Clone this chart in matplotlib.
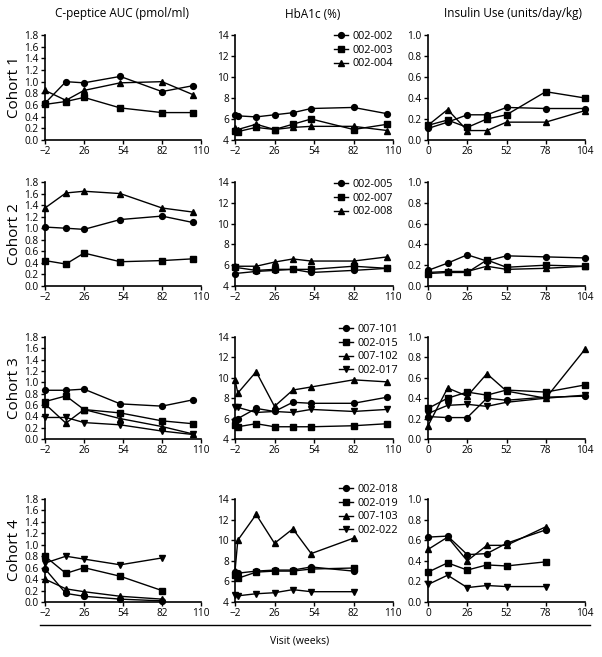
import matplotlib
matplotlib.use("Agg")
import matplotlib.pyplot as plt
from matplotlib.lines import Line2D

plt.rcParams['font.family'] = ['Open Sans', 'DejaVu Sans']

# ---------------- data ----------------
COLUMN_TITLES = ["C-peptice AUC (pmol/ml)", "HbA1c (%)", "Insulin Use (units/day/kg)"]
COHORTS = ["Cohort 1", "Cohort 2", "Cohort 3", "Cohort 4"]
MARKERS = ['o', 's', '^', 'v']

C1_IDS = ["002-002", "002-003", "002-004"]
C2_IDS = ["002-005", "002-007", "002-008"]
C3_IDS = ["007-101", "002-015", "007-102", "002-017"]
C4_IDS = ["002-018", "002-019", "007-103", "002-022"]

CPEP_X = [-2, 13, 26, 52, 82, 104]
CPEP_X4 = [-2, 13, 26, 52, 82]
HBA_X1 = [-2, 0, 13, 26, 39, 52, 82, 106]
HBA_X2 = [-2, 13, 26, 39, 52, 82, 106]
HBA_X3 = [-2, 0, 13, 26, 39, 52, 82, 106]
HBA_X4 = [-2, 0, 13, 26, 39, 52, 82]
INS_X = [0, 13, 26, 39, 52, 78, 104]
INS_X4 = [0, 13, 26, 39, 52, 78]

C1_CPEP = [[0.63, 1.00, 0.98, 1.09, 0.83, 0.93],
           [0.61, 0.66, 0.73, 0.55, 0.47, 0.47],
           [0.85, 0.68, 0.85, 0.98, 1.00, 0.78]]
C2_CPEP = [[1.02, 1.00, 0.98, 1.15, 1.21, 1.10],
           [0.44, 0.38, 0.57, 0.42, 0.44, 0.47],
           [1.35, 1.61, 1.64, 1.60, 1.35, 1.28]]
C3_CPEP = [[0.86, 0.86, 0.88, 0.62, 0.58, 0.69],
           [0.66, 0.76, 0.52, 0.46, 0.32, 0.27],
           [0.62, 0.28, 0.52, 0.36, 0.22, 0.09],
           [0.38, 0.38, 0.29, 0.25, 0.14, 0.08]]
C4_CPEP = [[0.58, 0.15, 0.10, 0.05, 0.02],
           [0.80, 0.50, 0.60, 0.45, 0.20],
           [0.40, 0.23, 0.18, 0.10, 0.05],
           [0.68, 0.80, 0.75, 0.65, 0.77]]

C1_HBA = [[6.4, 6.3, 6.2, 6.4, 6.6, 7.0, 7.1, 6.5],
          [4.9, 4.8, 5.2, 5.0, 5.5, 6.0, 5.0, 5.5],
          [5.1, 5.0, 5.5, 5.0, 5.2, 5.3, 5.3, 4.9]]
C2_HBA = [[5.2, 5.4, 5.5, 5.6, 5.3, 5.5, 5.7],
          [5.8, 5.5, 5.6, 5.6, 5.6, 5.9, 5.7],
          [5.9, 5.9, 6.3, 6.6, 6.4, 6.4, 6.8]]
C3_HBA = [[5.9, 6.0, 7.0, 6.7, 7.6, 7.5, 7.5, 8.1],
          [5.4, 5.2, 5.5, 5.2, 5.2, 5.2, 5.3, 5.5],
          [9.8, 8.5, 10.6, 7.2, 8.8, 9.1, 9.8, 9.6],
          [7.1, 7.1, 6.6, 6.7, 6.6, 6.9, 6.7, 6.9]]
C4_HBA = [[6.9, 6.8, 7.0, 7.1, 7.1, 7.4, 7.0],
          [6.6, 6.3, 6.9, 7.0, 7.0, 7.2, 7.3],
          [7.0, 10.0, 12.5, 9.7, 11.1, 8.7, 10.2],
          [4.7, 4.6, 4.8, 4.9, 5.2, 5.0, 5.0]]

C1_INS = [[0.11, 0.17, 0.24, 0.24, 0.31, 0.30, 0.30],
          [0.14, 0.19, 0.12, 0.20, 0.24, 0.46, 0.40],
          [0.14, 0.29, 0.09, 0.09, 0.17, 0.17, 0.28]]
C2_INS = [[0.15, 0.22, 0.30, 0.24, 0.29, 0.28, 0.27],
          [0.12, 0.13, 0.13, 0.25, 0.18, 0.20, 0.19],
          [0.13, 0.14, 0.14, 0.19, 0.16, 0.17, 0.19]]
C3_INS = [[0.22, 0.21, 0.21, 0.40, 0.38, 0.41, 0.42],
          [0.30, 0.40, 0.46, 0.43, 0.48, 0.46, 0.53],
          [0.13, 0.50, 0.42, 0.64, 0.47, 0.40, 0.88],
          [0.25, 0.33, 0.34, 0.32, 0.36, 0.40, 0.43]]
C4_INS = [[0.63, 0.64, 0.46, 0.47, 0.57, 0.70],
          [0.29, 0.38, 0.31, 0.36, 0.35, 0.39],
          [0.51, 0.63, 0.40, 0.55, 0.55, 0.73],
          [0.17, 0.26, 0.14, 0.16, 0.15, 0.15]]

CPEP_TICKS = [-2, 26, 54, 82, 110]
HBA_TICKS = [-2, 26, 54, 82, 110]
INS_TICKS = [0, 26, 52, 78, 104]
CPEP_YTICKS = [0.0, 0.2, 0.4, 0.6, 0.8, 1.0, 1.2, 1.4, 1.6, 1.8]
HBA_YTICKS = [4, 6, 8, 10, 12, 14]
INS_YTICKS = [0.0, 0.2, 0.4, 0.6, 0.8, 1.0]

rows = [
    (C1_IDS, (CPEP_X, C1_CPEP), (HBA_X1, C1_HBA), (INS_X, C1_INS)),
    (C2_IDS, (CPEP_X, C2_CPEP), (HBA_X2, C2_HBA), (INS_X, C2_INS)),
    (C3_IDS, (CPEP_X, C3_CPEP), (HBA_X3, C3_HBA), (INS_X, C3_INS)),
    (C4_IDS, (CPEP_X4, C4_CPEP), (HBA_X4, C4_HBA), (INS_X4, C4_INS)),
]

# ---------------- layout ----------------
W, H = 602, 657
fig = plt.figure(figsize=(W / 100, H / 100), dpi=100)

col_px = [(45, 156), (235, 158), (428, 157)]
row_px = [(35, 140), (182, 286), (337, 439), (499, 602)]
legend_px = [(342, 31), (342, 179), (347, 324), (347, 484)]

def px_axes(x0, w, y0, y1):
    return fig.add_axes([x0 / W, 1 - y1 / H, w / W, (y1 - y0) / H])

FS = 7.3
for r, (ids, cp, hb, ins) in enumerate(rows):
    y0, y1 = row_px[r]
    for c, (xs, series) in enumerate([cp, hb, ins]):
        ax = px_axes(col_px[c][0], col_px[c][1], y0, y1)
        for i, ys in enumerate(series):
            ax.plot(xs, ys, color='black', lw=1.0, marker=MARKERS[i],
                    markersize=4.2, clip_on=False, zorder=3)
        if c == 0:
            ax.set_xlim(-2, 110); ax.set_xticks(CPEP_TICKS)
            ax.set_ylim(0, 1.8); ax.set_yticks(CPEP_YTICKS)
            ax.set_yticklabels([f"{v:.1f}" for v in CPEP_YTICKS])
        elif c == 1:
            ax.set_xlim(-2, 110); ax.set_xticks(HBA_TICKS)
            ax.set_ylim(4, 14); ax.set_yticks(HBA_YTICKS)
        else:
            ax.set_xlim(0, 104); ax.set_xticks(INS_TICKS)
            ax.set_ylim(0, 1.0); ax.set_yticks(INS_YTICKS)
            ax.set_yticklabels([f"{v:.1f}" for v in INS_YTICKS])
        for s in ['top', 'right']:
            ax.spines[s].set_visible(False)
        for s in ['left', 'bottom']:
            ax.spines[s].set_linewidth(1.2)
        ax.tick_params(direction='out', length=3, width=1, labelsize=FS, pad=1.5)
        ax.patch.set_alpha(0)
        if c == 1:
            handles = [Line2D([], [], color='black', lw=1.0, marker=MARKERS[i], markersize=4.2)
                       for i in range(len(ids))]
            lx, ly = legend_px[r]
            x0, w = col_px[1]
            leg = ax.legend(handles, ids, loc='upper left',
                            bbox_to_anchor=((lx - 8 - x0) / w, (y1 - ly) / (y1 - y0)),
                            frameon=False, fontsize=FS + 0.5, handlelength=1.3,
                            handletextpad=0.4, labelspacing=0.25, borderpad=0,
                            borderaxespad=0)
    fig.text(15 / W, 1 - ((y0 + y1) / 2) / H, COHORTS[r], rotation=90,
             ha='center', va='center', fontsize=11)

title_x = [122, 313, 513]
for c, t in enumerate(COLUMN_TITLES):
    fig.text(title_x[c] / W, 1 - 14 / H, t, ha='center', va='center', fontsize=8.5)

fig.add_artist(Line2D([40 / W, 590 / W], [1 - 625 / H, 1 - 625 / H], color='black', lw=1.0))
fig.text(300 / W, 1 - 641 / H, "Visit (weeks)", ha='center', va='center', fontsize=7.5)

fig.savefig("out.png", dpi=100)
